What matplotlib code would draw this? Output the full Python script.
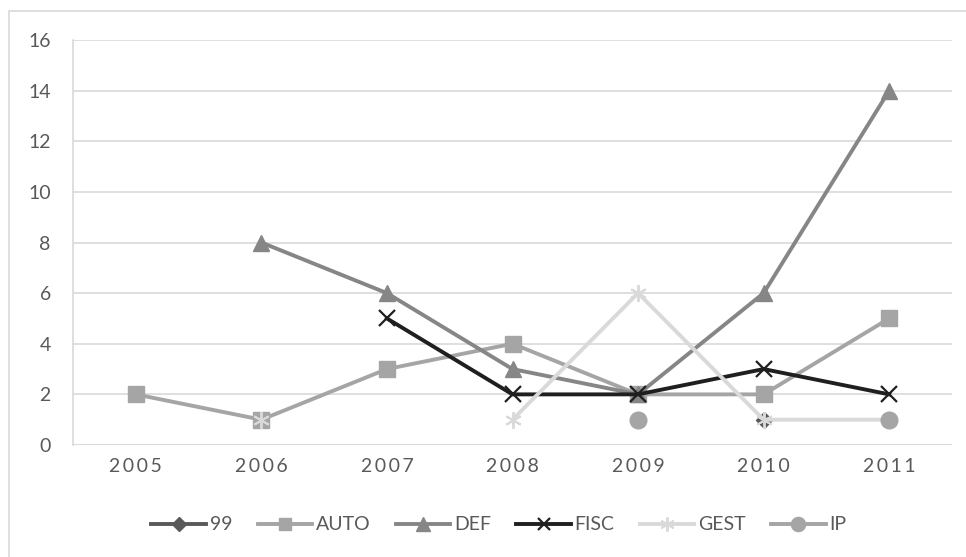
import numpy as np
import matplotlib.pyplot as plt
from matplotlib.patches import Rectangle

plt.rcParams['font.family'] = ['Lato', 'DejaVu Sans']

years = ['2005', '2006', '2007', '2008', '2009', '2010', '2011']
nan = np.nan

s99 = [nan, nan, nan, nan, nan, 1, nan]
auto = [2, 1, 3, 4, 2, 2, 5]
deff = [nan, 8, 6, 3, 2, 6, 14]
fisc = [nan, nan, 5, 2, 2, 3, 2]
gest = [nan, 1, nan, 1, 6, 1, 1]
ip = [nan, nan, nan, nan, 1, nan, 1]

text_col = '#595959'
grid_col = '#D9D9D9'

fig = plt.figure(figsize=(9.66, 5.57), dpi=100)
# chart area frame
fig.patches.append(Rectangle((9 / 966, -0.05), 1.1, 1 - 11 / 557 + 0.05,
                             transform=fig.transFigure, fill=False,
                             edgecolor=grid_col, linewidth=1.2))

ax = fig.add_axes([73 / 966, 1 - 445 / 557, (952 - 73) / 966, (445 - 40) / 557])
x = np.arange(len(years))

series = [
    ('99', s99, '#595959', dict(marker='D', markersize=8)),
    ('AUTO', auto, '#A5A5A5', dict(marker='s', markersize=11)),
    ('DEF', deff, '#868686', dict(marker='^', markersize=12)),
    ('FISC', fisc, '#1F1F1F', dict(marker='x', markersize=11, markeredgewidth=1.6)),
    ('GEST', gest, '#D9D9D9', dict(marker=(6, 2, 0), markersize=12, markeredgewidth=1.4)),
    ('IP', ip, '#A5A5A5', dict(marker='o', markersize=12)),
]

for name, vals, col, mk in series:
    ax.plot(x, vals, color=col, linewidth=2.8, label=name,
            markerfacecolor=col, markeredgecolor=col, zorder=3, **mk)

ax.set_xlim(-0.5, 6.5)
ax.set_ylim(0, 16)
ax.set_yticks(range(0, 17, 2))
ax.set_xticks(x)
ax.set_xticklabels(['\u2009'.join(y) for y in years])
ax.yaxis.grid(True, color=grid_col, linewidth=1.2)
ax.set_axisbelow(True)
for sp in ['top', 'right', 'bottom']:
    ax.spines[sp].set_visible(False)
ax.spines['left'].set_color(grid_col)
ax.spines['left'].set_linewidth(1.2)
ax.axhline(0, color=grid_col, linewidth=1.2, zorder=1)
ax.tick_params(length=0, labelsize=14, colors=text_col, pad=9)
ax.tick_params(axis='y', pad=16)

fig.legend(loc='center', bbox_to_anchor=(499 / 966, 1 - 525 / 557), ncol=6,
           frameon=False, fontsize=14, labelcolor=text_col, markerscale=0.85,
           handlelength=2.8, handletextpad=0.2, columnspacing=1.3)

fig.savefig('out.png', dpi=100)
